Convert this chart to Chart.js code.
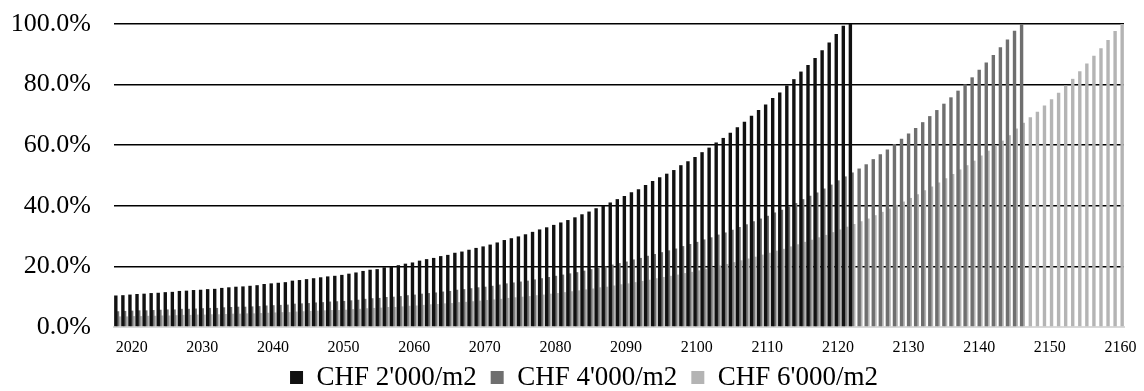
<!DOCTYPE html>
<html>
<head>
<meta charset="utf-8">
<script src="https://cdn.jsdelivr.net/npm/chart.js@4.4.1/dist/chart.umd.min.js"></script>
<style>
  html, body { margin: 0; padding: 0; background: #fff; }
</style>
</head>
<body>
<canvas id="costChart" width="1144" height="391"></canvas>
<script>
// years shown on the category axis
const firstYear = 2018;
const lastYear = 2160;
const years = Array.from({ length: lastYear - firstYear + 1 }, (_, i) => String(firstYear + i));
const yearTicks = ['2020', '2030', '2040', '2050', '2060', '2070', '2080', '2090', '2100', '2110', '2120', '2130', '2140', '2150', '2160'];
const seriesNames = ["CHF 2'000/m2", "CHF 4'000/m2", "CHF 6'000/m2"];

// CHF 2'000/m2 : 2018 - 2122 (%)
const chf2000 = [
  10.4, 10.5, 10.7, 10.9, 11.0, 11.2, 11.3, 11.5, 11.6, 11.9,
  12.0, 12.2, 12.3, 12.5, 12.6, 12.9, 13.1, 13.3, 13.4, 13.6,
  13.8, 14.2, 14.4, 14.6, 14.8, 15.3, 15.5, 15.8, 16.1, 16.4,
  16.7, 16.9, 17.2, 17.6, 18.0, 18.5, 18.9, 19.1, 19.7, 19.9,
  20.4, 20.9, 21.3, 21.9, 22.4, 22.8, 23.4, 23.8, 24.5, 24.9,
  25.5, 26.1, 26.6, 27.2, 27.9, 28.7, 29.3, 29.9, 30.6, 31.4,
  32.2, 32.9, 33.7, 34.5, 35.3, 36.2, 37.2, 38.1, 39.2, 40.0,
  41.1, 42.2, 43.2, 44.5, 45.5, 46.9, 48.2, 49.4, 50.6, 51.8,
  53.4, 54.7, 56.1, 57.7, 59.2, 60.9, 62.4, 64.1, 65.9, 67.7,
  69.7, 71.6, 73.4, 75.6, 77.4, 79.7, 81.8, 84.3, 86.5, 88.8,
  91.3, 93.9, 96.7, 99.4, 100
];

// CHF 4'000/m2 : 2018 - 2146 (%)
const chf4000 = [
  5.2, 5.3, 5.4, 5.5, 5.5, 5.6, 5.7, 5.8, 5.8, 6.0,
  6.0, 6.1, 6.2, 6.3, 6.3, 6.5, 6.6, 6.7, 6.7, 6.8,
  6.9, 7.1, 7.2, 7.3, 7.4, 7.7, 7.8, 7.9, 8.1, 8.2,
  8.4, 8.5, 8.6, 8.8, 9.0, 9.3, 9.5, 9.6, 9.9, 10.0,
  10.2, 10.5, 10.7, 11.0, 11.2, 11.4, 11.7, 11.9, 12.3, 12.5,
  12.8, 13.1, 13.3, 13.6, 14.0, 14.4, 14.7, 15.0, 15.3, 15.7,
  16.1, 16.5, 16.9, 17.3, 17.7, 18.1, 18.6, 19.1, 19.6, 20.0,
  20.6, 21.1, 21.6, 22.3, 22.8, 23.5, 24.1, 24.7, 25.3, 25.9,
  26.7, 27.4, 28.1, 28.9, 29.6, 30.5, 31.2, 32.1, 33.0, 33.9,
  34.9, 35.8, 36.7, 37.8, 38.7, 39.9, 40.9, 42.2, 43.3, 44.4,
  45.7, 47.0, 48.4, 49.7, 51.0, 52.3, 53.7, 55.4, 57.0, 58.6,
  60.4, 62.1, 63.9, 65.7, 67.6, 69.6, 71.6, 73.7, 75.8, 78.0,
  80.1, 82.4, 84.9, 87.3, 89.8, 92.3, 94.9, 97.8, 100
];

// CHF 6'000/m2 : 2018 - 2160 (%)
const chf6000 = [
  3.5, 3.5, 3.6, 3.6, 3.7, 3.7, 3.8, 3.8, 3.9, 4.0,
  4.0, 4.1, 4.1, 4.2, 4.2, 4.3, 4.4, 4.4, 4.5, 4.5,
  4.6, 4.7, 4.8, 4.9, 4.9, 5.1, 5.2, 5.3, 5.4, 5.5,
  5.6, 5.6, 5.7, 5.9, 6.0, 6.2, 6.3, 6.4, 6.6, 6.6,
  6.8, 7.0, 7.1, 7.3, 7.5, 7.6, 7.8, 7.9, 8.2, 8.3,
  8.5, 8.7, 8.9, 9.1, 9.3, 9.6, 9.8, 10.0, 10.2, 10.5,
  10.7, 11.0, 11.2, 11.5, 11.8, 12.1, 12.4, 12.7, 13.1, 13.3,
  13.7, 14.1, 14.4, 14.8, 15.2, 15.6, 16.1, 16.5, 16.9, 17.3,
  17.8, 18.2, 18.7, 19.2, 19.7, 20.3, 20.8, 21.4, 22.0, 22.6,
  23.2, 23.9, 24.5, 25.2, 25.8, 26.6, 27.3, 28.1, 28.8, 29.6,
  30.4, 31.3, 32.2, 33.1, 34.0, 34.9, 35.8, 36.9, 38.0, 39.1,
  40.3, 41.4, 42.6, 43.8, 45.1, 46.4, 47.7, 49.1, 50.5, 52.0,
  53.4, 54.9, 56.6, 58.2, 59.9, 61.5, 63.3, 65.5, 67.4, 69.2,
  71.0, 73.1, 75.2, 77.3, 79.7, 81.9, 84.4, 87.0, 89.5, 92.0,
  94.7, 97.7, 100
];

const colors = ['#111111', '#6f6f6f', '#b4b4b4'];

Chart.defaults.font.family = "'Liberation Serif', 'Times New Roman', serif";
Chart.defaults.color = '#000';

// the legend in the original sits a bit right of centre and close to the year labels
const legendShift = {
  id: 'legendShift',
  afterLayout(chart) {
    const lg = chart.legend;
    lg.left += 21;
    lg.right += 21;
    lg.top -= 7;
    lg.bottom -= 7;
  },
};

const ctx = document.getElementById('costChart');
new Chart(ctx, {
  type: 'bar',
  data: {
    labels: years,
    datasets: [
      { label: seriesNames[0], data: chf2000, backgroundColor: colors[0] },
      { label: seriesNames[1], data: chf4000, backgroundColor: colors[1] },
      { label: seriesNames[2], data: chf6000, backgroundColor: colors[2] },
    ],
  },
  plugins: [legendShift],
  options: {
    responsive: false,
    animation: false,
    // bars overlap each other by half, like the original
    barPercentage: 2,
    categoryPercentage: 0.722,
    layout: { padding: { left: 2, right: 20, top: 24, bottom: -17 } },
    plugins: {
      tooltip: { enabled: false },
      legend: {
        position: 'bottom',
        labels: {
          boxWidth: 13,
          boxHeight: 13,
          padding: 14,
          font: { size: 27 },
          color: '#000',
        },
      },
    },
    scales: {
      x: {
        grid: { display: false, drawTicks: false },
        border: { display: true, color: '#d9d9d9', width: 2 },
        ticks: {
          autoSkip: false,
          maxRotation: 0,
          padding: 11,
          font: { size: 16 },
          callback: (val, i) => (yearTicks.includes(years[i]) ? years[i] : null),
        },
        afterFit: (scale) => {
          scale.height = 30;
          scale.paddingLeft = 0;
          scale.paddingRight = 0;
        },
      },
      y: {
        min: 0,
        max: 100,
        ticks: {
          stepSize: 20,
          padding: 23,
          font: { size: 26 },
          callback: (v) => v.toFixed(1) + '%',
        },
        grid: {
          drawTicks: false,
          lineWidth: 1.6,
          color: (c) => (c.tick && c.tick.value === 0 ? 'rgba(0,0,0,0)' : '#000'),
        },
        border: { display: false },
        afterFit: (scale) => {
          scale.width = 112;
          scale.paddingTop = 0;
          scale.paddingBottom = 0;
        },
      },
    },
  },
});
</script>
</body>
</html>
